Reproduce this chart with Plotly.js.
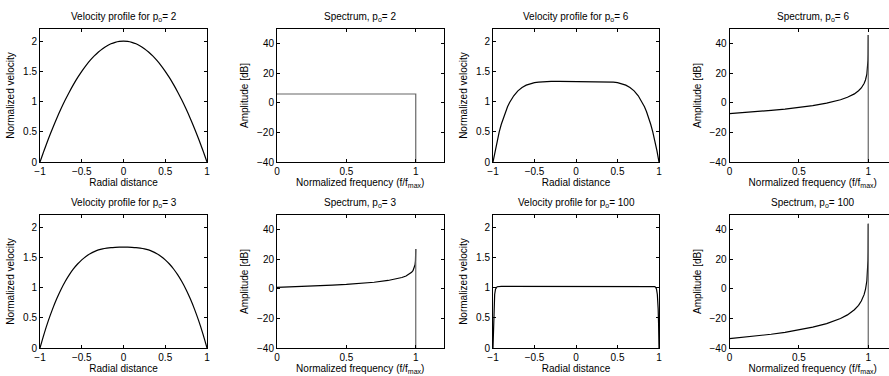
<!DOCTYPE html>
<html>
<head>
<meta charset="utf-8">
<script src="https://cdn.plot.ly/plotly-3.0.1.min.js"></script>
<style>
html, body { margin: 0; padding: 0; overflow: hidden; background: #fff; }
#chart { width: 897px; height: 376px; }
</style>
</head>
<body>
<div id="chart"></div>
<script>
// ---------- data ----------
// Velocity profiles (radial distance vs normalized velocity)
const velR = [-1,-0.95,-0.9,-0.85,-0.8,-0.75,-0.7,-0.65,-0.6,-0.55,-0.5,-0.45,-0.4,-0.35,-0.3,-0.25,-0.2,-0.15,-0.1,-0.05,0,
              0.05,0.1,0.15,0.2,0.25,0.3,0.35,0.4,0.45,0.5,0.55,0.6,0.65,0.7,0.75,0.8,0.85,0.9,0.95,1];
const velP2 = [0,0.195,0.38,0.555,0.72,0.875,1.02,1.155,1.28,1.395,1.5,1.595,1.68,1.755,1.82,1.875,1.92,1.955,1.98,1.995,2,
               1.995,1.98,1.955,1.92,1.875,1.82,1.755,1.68,1.595,1.5,1.395,1.28,1.155,1.02,0.875,0.72,0.555,0.38,0.195,0];
const velP3 = [0,0.238,0.452,0.643,0.813,0.964,1.095,1.209,1.307,1.389,1.458,1.515,1.560,1.595,1.622,1.641,1.653,1.661,1.665,1.667,1.667,
               1.667,1.665,1.661,1.653,1.641,1.622,1.595,1.560,1.515,1.458,1.389,1.307,1.209,1.095,0.964,0.813,0.643,0.452,0.238,0];
const velR6 = [-1,-0.975,-0.95,-0.925,-0.9,-0.875,-0.85,-0.825,-0.8,-0.75,-0.7,-0.65,-0.6,-0.55,-0.5,-0.45,-0.4,-0.35,-0.3,-0.2,-0.1,0,
               0.1,0.2,0.3,0.35,0.4,0.45,0.5,0.55,0.6,0.65,0.7,0.75,0.8,0.825,0.85,0.875,0.9,0.925,0.95,0.975,1];
const velP6 = [0,0.188,0.353,0.498,0.625,0.735,0.831,0.913,0.984,1.096,1.177,1.233,1.271,1.296,1.313,1.322,1.328,1.331,1.332,1.333,1.333,1.333,
               1.333,1.333,1.332,1.331,1.328,1.322,1.313,1.296,1.271,1.233,1.177,1.096,0.984,0.913,0.831,0.735,0.625,0.498,0.353,0.188,0];
const velR100 = [-1,-0.995,-0.99,-0.985,-0.98,-0.97,-0.96,-0.95,-0.9,-0.5,0,0.5,0.9,0.95,0.96,0.97,0.98,0.985,0.99,0.995,1];
const velP100 = [0,0.402,0.647,0.795,0.885,0.972,1.003,1.014,1.02,1.02,1.02,1.02,1.02,1.014,1.003,0.972,0.885,0.795,0.647,0.402,0];

// Spectra (normalized frequency vs amplitude in dB); last point is the drop at f/fmax = 1
const specF2 = [0,1,1];
const specA2 = [6,6,-40];
const specF = [0,0.1,0.2,0.3,0.4,0.5,0.6,0.7,0.8,0.85,0.9,0.93,0.95,0.97,0.98,0.99,0.995,0.998,0.999,1,1];
const specA3 = [1.0,1.3,1.6,2.0,2.5,3.0,3.7,4.5,5.7,6.5,7.7,8.7,9.7,11.2,12.3,14.3,16.3,19.0,21.0,27,-40];
const specA6 = [-7.2,-6.6,-5.9,-5.1,-4.2,-3.2,-1.9,-0.2,2.1,3.8,6.1,8.2,10.1,13.1,15.5,19.5,23.5,28.8,32.8,46,-40];
const specA100 = [-33.7,-32.8,-31.8,-30.7,-29.4,-27.8,-25.9,-23.5,-20.0,-17.6,-14.1,-11.1,-8.2,-3.9,-0.4,5.5,11.4,19.2,25.1,44,-40];

// tick labels / values
const velXTicks = [-1,-0.5,0,0.5,1];
const velYTicks = [0,0.5,1,1.5,2];
const specXTicks = [0,0.5,1];
const specYTicks = [-40,-20,0,20,40];

const titles = [
  'Velocity profile for p<sub>o</sub>= 2', 'Spectrum, p<sub>o</sub>= 2',
  'Velocity profile for p<sub>o</sub>= 6', 'Spectrum, p<sub>o</sub>= 6',
  'Velocity profile for p<sub>o</sub>= 3', 'Spectrum, p<sub>o</sub>= 3',
  'Velocity profile for p<sub>o</sub>= 100', 'Spectrum, p<sub>o</sub>= 100'
];

// ---------- layout geometry (pixels) ----------
const W = 897, H = 376;
const cols = [[40,207],[277,443.5],[493,659],[729.5,896]];
const rows = [[29,162],[215,348]];
function font() { return {family: 'Liberation Sans, Arial, Helvetica, sans-serif', size: 10, color: '#000000'}; }

const traces = [];
const layout = {
  width: W, height: H,
  margin: {l: 0, r: 0, t: 0, b: 0},
  paper_bgcolor: '#fff', plot_bgcolor: '#fff',
  showlegend: false,
  font: font(),
  annotations: []
};

function axisBase() {
  return {
    showgrid: false, zeroline: false,
    showline: true, linecolor: '#000', linewidth: 1, mirror: 'ticks',
    ticks: 'inside', ticklen: 3, tickwidth: 1, tickcolor: '#000',
    tickfont: font(), fixedrange: true
  };
}

// panel specs: [row, col, kind, x, y, title index]
const panels = [
  [0,0,'vel',velR,velP2,0],
  [0,1,'spec',specF2,specA2,1],
  [0,2,'vel',velR6,velP6,2],
  [0,3,'spec',specF,specA6,3],
  [1,0,'vel',velR,velP3,4],
  [1,1,'spec',specF,specA3,5],
  [1,2,'vel',velR100,velP100,6],
  [1,3,'spec',specF,specA100,7]
];

panels.forEach((p, i) => {
  const [r, c, kind, xs, ys, ti] = p;
  const n = i + 1;
  const xa = 'x' + (n === 1 ? '' : n), ya = 'y' + (n === 1 ? '' : n);
  const xk = 'xaxis' + (n === 1 ? '' : n), yk = 'yaxis' + (n === 1 ? '' : n);
  const xd = [cols[c][0] / W, cols[c][1] / W];
  const yd = [1 - rows[r][1] / H, 1 - rows[r][0] / H];
  const xaxis = axisBase(), yaxis = axisBase();
  xaxis.domain = xd; yaxis.domain = yd;
  xaxis.anchor = ya; yaxis.anchor = xa;
  if (kind === 'vel') {
    xaxis.range = [-1, 1]; xaxis.tickvals = velXTicks;
    yaxis.range = [0, 2.2]; yaxis.tickvals = velYTicks;
    xaxis.title = {text: 'Radial distance', font: font(), standoff: 2};
    yaxis.title = {text: 'Normalized velocity', font: font(), standoff: 6};
    const smooth = xs.length > 30 && xs !== velR6;
    traces.push({x: xs, y: ys, xaxis: xa, yaxis: ya, type: 'scatter', mode: 'lines',
                 line: {color: '#000', width: 1.2, shape: smooth ? 'spline' : 'linear', smoothing: 0.8},
                 hoverinfo: 'skip'});
  } else {
    xaxis.range = [0, 1.2]; xaxis.tickvals = specXTicks;
    yaxis.range = [-40, 50]; yaxis.tickvals = specYTicks;
    xaxis.title = {text: 'Normalized frequency (f/f<sub>max</sub>)', font: font(), standoff: 2};
    yaxis.title = {text: 'Amplitude [dB]', font: font(), standoff: 6};
    const k = xs.length;
    if (k > 3) {
      traces.push({x: xs.slice(0, k - 1), y: ys.slice(0, k - 1), xaxis: xa, yaxis: ya, type: 'scatter',
                   mode: 'lines', line: {color: '#000', width: 1.2}, hoverinfo: 'skip'});
      traces.push({x: xs.slice(k - 2), y: ys.slice(k - 2), xaxis: xa, yaxis: ya, type: 'scatter',
                   mode: 'lines', line: {color: '#666', width: 1.2}, hoverinfo: 'skip'});
    } else {
      traces.push({x: xs, y: ys, xaxis: xa, yaxis: ya, type: 'scatter', mode: 'lines',
                   line: {color: '#666', width: 1.2}, hoverinfo: 'skip'});
    }
  }
  layout[xk] = xaxis; layout[yk] = yaxis;
  layout.annotations.push({
    text: titles[ti], xref: 'paper', yref: 'paper',
    x: (xd[0] + xd[1]) / 2, y: yd[1], xanchor: 'center', yanchor: 'bottom',
    yshift: 4, showarrow: false, font: font()
  });
});

Plotly.newPlot('chart', traces, layout, {displayModeBar: false, responsive: false});
</script>
</body>
</html>
